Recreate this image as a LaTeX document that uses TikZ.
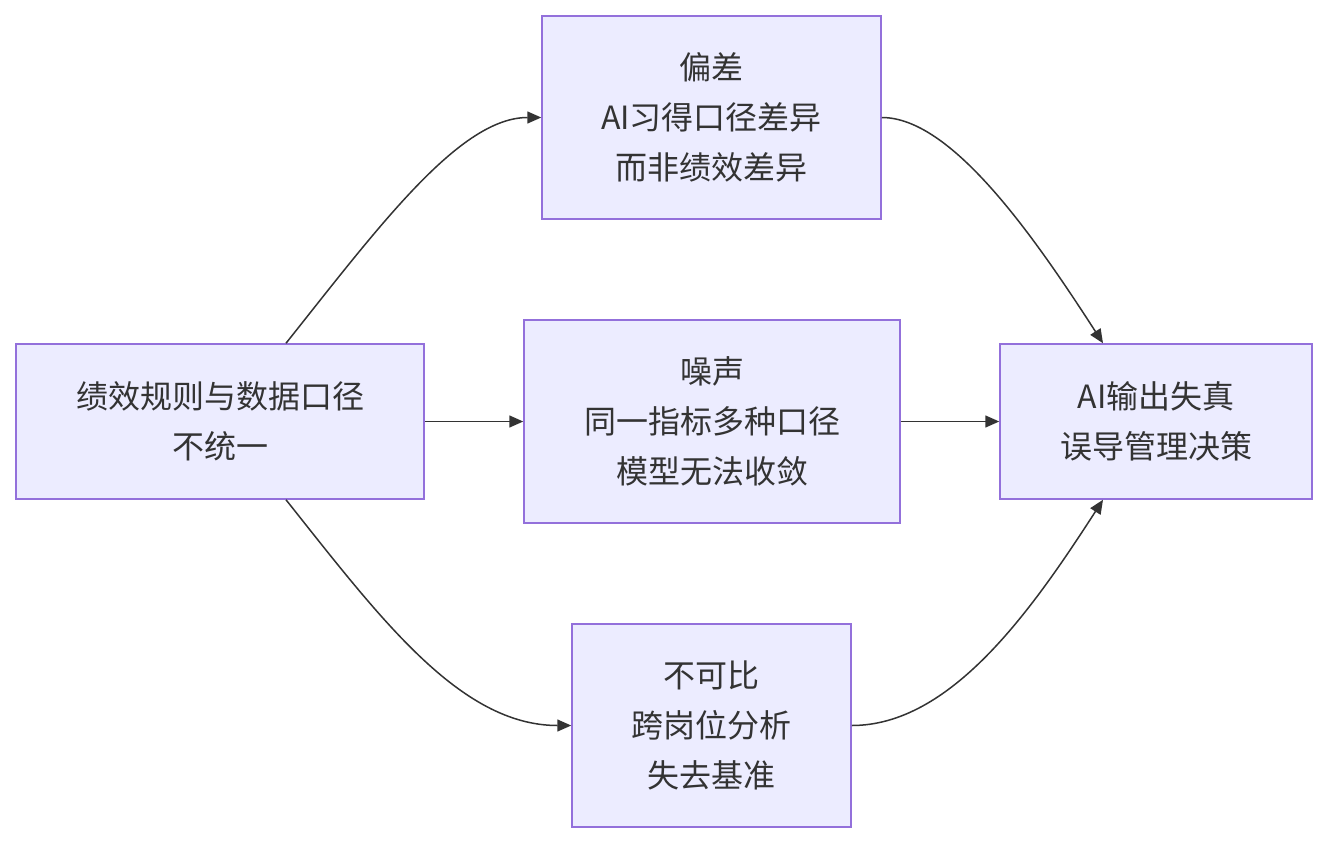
\documentclass[tikz,border=0pt]{standalone}
\usepackage{fontspec}
\setmainfont{Noto Sans CJK SC}
\usetikzlibrary{arrows.meta,calc}
\definecolor{nodefill}{HTML}{ECECFF}
\definecolor{nodeline}{HTML}{9370DB}
\definecolor{edgecol}{HTML}{333333}
\begin{document}
\begin{tikzpicture}[x=1pt,y=-1pt,
  box/.style={draw=nodeline, fill=nodefill, line width=1.5pt, align=center, inner sep=0pt,
    font=\fontsize{32}{50}\selectfont, text=edgecol},
  conn/.style={draw=edgecol, line width=1.5pt, -{Triangle[length=14pt,width=12pt]}}]
\useasboundingbox (0,0) rectangle (1328,844);
\node[box, minimum width=408pt, minimum height=155pt] (A) at (220,421.5) {绩效规则与数据口径\\不统一};
\node[box, minimum width=339pt, minimum height=203pt] (B) at (711.5,117.5) {偏差\\AI习得口径差异\\而非绩效差异};
\node[box, minimum width=376pt, minimum height=203pt] (C) at (712,421.5) {噪声\\同一指标多种口径\\模型无法收敛};
\node[box, minimum width=279pt, minimum height=203pt] (D) at (711.5,725.5) {不可比\\跨岗位分析\\失去基准};
\node[box, minimum width=312pt, minimum height=155pt] (E) at (1156,421.5) {AI输出失真\\误导管理决策};
\draw[conn] ([xshift=66pt]A.north) .. controls (380,225) and (460,117.5) .. (B.west);
\draw[conn] (A.east) -- (C.west);
\draw[conn] ([xshift=66pt]A.south) .. controls (380,618) and (460,725.5) .. (D.west);
\draw[conn] (B.east) .. controls (950,117.5) and (1030,230) .. ([xshift=-53pt]E.north);
\draw[conn] (C.east) -- (E.west);
\draw[conn] (D.east) .. controls (950,725.5) and (1030,613) .. ([xshift=-53pt]E.south);
\end{tikzpicture}
\end{document}
